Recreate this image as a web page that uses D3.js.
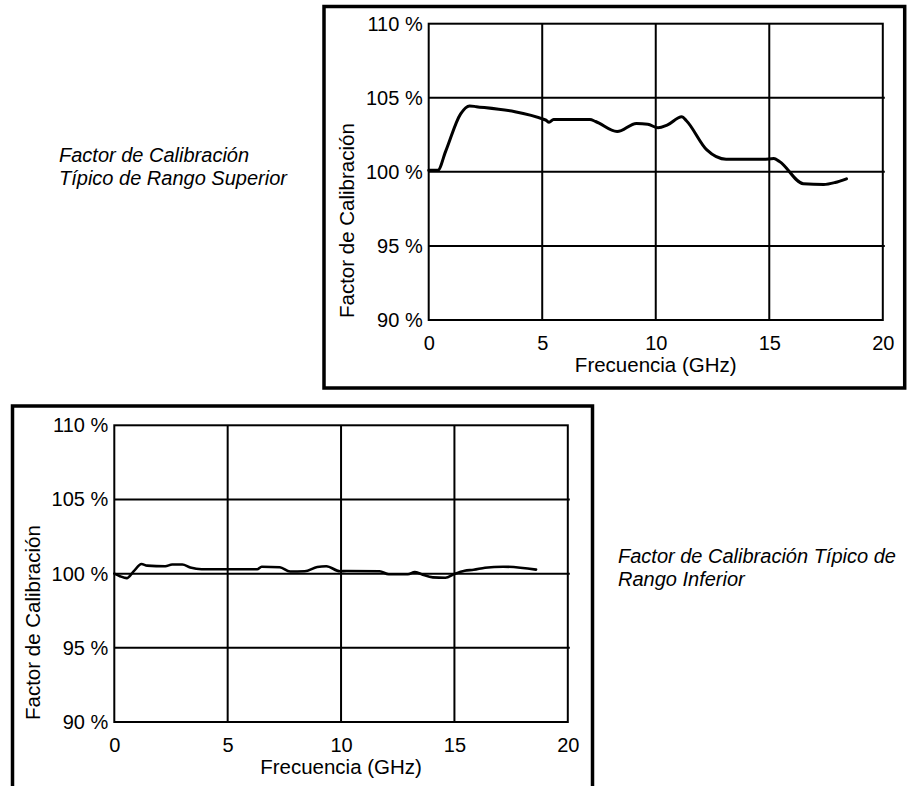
<!DOCTYPE html>
<html lang="es">
<head>
<meta charset="utf-8">
<title>Factor de Calibración</title>
<script src="https://d3js.org/d3.v7.min.js"></script>
<style>
  body { margin: 0; background: #fff; }
  svg text { font-family: "Liberation Sans", Arial, Helvetica, sans-serif; fill: #000; }
</style>
</head>
<body>
<script>
// --- data ---
var freqTicks = [0, 5, 10, 15, 20];
var pctTicks = [90, 95, 100, 105, 110];
var xTitle = "Frecuencia (GHz)";
var yTitle = "Factor de Calibración";

// upper range
var upperFreq = [0, 0.4, 0.75, 1.4, 1.8, 2.1, 5.15, 5.3, 5.5, 7.1, 7.35, 8.3, 9.15, 9.65, 10.1, 10.5, 11.15, 11.35, 12.25, 13.1, 14.75, 15.2, 15.45, 16.5, 17.4, 17.9, 18.4];
var upperCal  = [100.1, 100.1, 101.4, 103.9, 104.45, 104.4, 103.5, 103.35, 103.53, 103.53, 103.4, 102.72, 103.27, 103.22, 102.97, 103.15, 103.72, 103.45, 101.48, 100.85, 100.85, 100.9, 100.7, 99.2, 99.15, 99.28, 99.53];
var upperLabel = ["Factor de Calibración", "Típico de Rango Superior"];

// lower range
var lowerFreq = [0, 0.25, 0.55, 0.85, 1.2, 1.45, 2.25, 2.55, 3.0, 3.35, 3.85, 6.3, 6.5, 7.3, 7.75, 8.4, 8.95, 9.35, 9.95, 10.25, 11.7, 12.1, 12.95, 13.25, 13.55, 14.05, 14.6, 15.0, 15.45, 15.85, 16.35, 17.15, 18.6];
var lowerCal  = [100.0, 99.83, 99.7, 100.15, 100.65, 100.54, 100.5, 100.62, 100.62, 100.42, 100.3, 100.3, 100.47, 100.43, 100.14, 100.16, 100.45, 100.5, 100.16, 100.18, 100.16, 99.96, 99.96, 100.11, 99.96, 99.75, 99.72, 99.98, 100.2, 100.26, 100.4, 100.47, 100.27];
var lowerLabel = ["Factor de Calibración Típico de", "Rango Inferior"];

var w = 913, h = 786;
var svg = d3.select("body").append("svg").attr("width", w).attr("height", h);

function drawPanel(p) {
  var g = svg.append("g");

  // outer frame
  g.append("rect")
    .attr("x", p.frame[0]).attr("y", p.frame[1])
    .attr("width", p.frame[2] - p.frame[0]).attr("height", p.frame[3] - p.frame[1])
    .attr("fill", "none").attr("stroke", "#000").attr("stroke-width", 3.5);

  var x = d3.scaleLinear().domain([0, 20]).range([p.left, p.right]);
  var y = d3.scaleLinear().domain([90, 110]).range([p.bottom, p.top]);

  // grid
  g.append("g").selectAll("line").data(freqTicks.slice(1, -1)).join("line")
    .attr("x1", d => x(d)).attr("x2", d => x(d))
    .attr("y1", p.top).attr("y2", p.bottom)
    .attr("stroke", "#000").attr("stroke-width", 2);
  g.append("g").selectAll("line").data(pctTicks.slice(1, -1)).join("line")
    .attr("x1", p.left).attr("x2", p.right + 2)
    .attr("y1", d => y(d)).attr("y2", d => y(d))
    .attr("stroke", "#000").attr("stroke-width", 2);

  // plot border
  g.append("rect")
    .attr("x", p.left).attr("y", p.top)
    .attr("width", p.right - p.left).attr("height", p.bottom - p.top)
    .attr("fill", "none").attr("stroke", "#000").attr("stroke-width", 2);

  // axes (labels only, lines drawn above)
  var xa = g.append("g").attr("transform", "translate(0," + p.bottom + ")")
    .call(d3.axisBottom(x).tickValues(freqTicks).tickSize(0).tickPadding(16));
  var ya = g.append("g").attr("transform", "translate(" + p.left + ",0)")
    .call(d3.axisLeft(y).tickValues(pctTicks).tickSize(0).tickPadding(6).tickFormat(d => d + " %"));
  [xa, ya].forEach(function (a) {
    a.select(".domain").remove();
    a.selectAll("text").attr("font-size", 20).attr("font-family", null);
  });

  g.append("text")
    .attr("x", (p.left + p.right) / 2).attr("y", p.bottom + 52)
    .attr("text-anchor", "middle").attr("font-size", 20.5)
    .text(xTitle);

  g.append("text")
    .attr("transform", "translate(" + p.yTitleX + "," + (p.bottom - 2) + ") rotate(-90)")
    .attr("dy", "0.35em").attr("font-size", 20.5)
    .text(yTitle);

  // curve
  var pts = p.freq.map((f, i) => [f, p.cal[i]]);
  g.append("path").datum(pts)
    .attr("fill", "none").attr("stroke", "#000").attr("stroke-width", p.lw)
    .attr("stroke-linejoin", "round").attr("stroke-linecap", "round")
    .attr("d", d3.line().x(d => x(d[0])).y(d => y(d[1])).curve(d3.curveMonotoneX));

  // side caption
  g.append("text")
    .attr("x", p.capX).attr("y", p.capY)
    .attr("font-size", 20).attr("font-style", "italic")
    .selectAll("tspan").data(p.caption).join("tspan")
    .attr("x", p.capX).attr("dy", (d, i) => i ? 23 : 0)
    .text(d => d);
}

drawPanel({
  frame: [324, 6.5, 904.7, 388],
  left: 428.7, right: 882.8, top: 23.7, bottom: 320,
  yTitleX: 347, lw: 3,
  freq: upperFreq, cal: upperCal,
  caption: upperLabel, capX: 59, capY: 162
});

drawPanel({
  frame: [12.5, 406, 592.5, 810],
  left: 114.3, right: 567.8, top: 425.3, bottom: 722,
  yTitleX: 33, lw: 2.6,
  freq: lowerFreq, cal: lowerCal,
  caption: lowerLabel, capX: 618, capY: 563
});
</script>
</body>
</html>
